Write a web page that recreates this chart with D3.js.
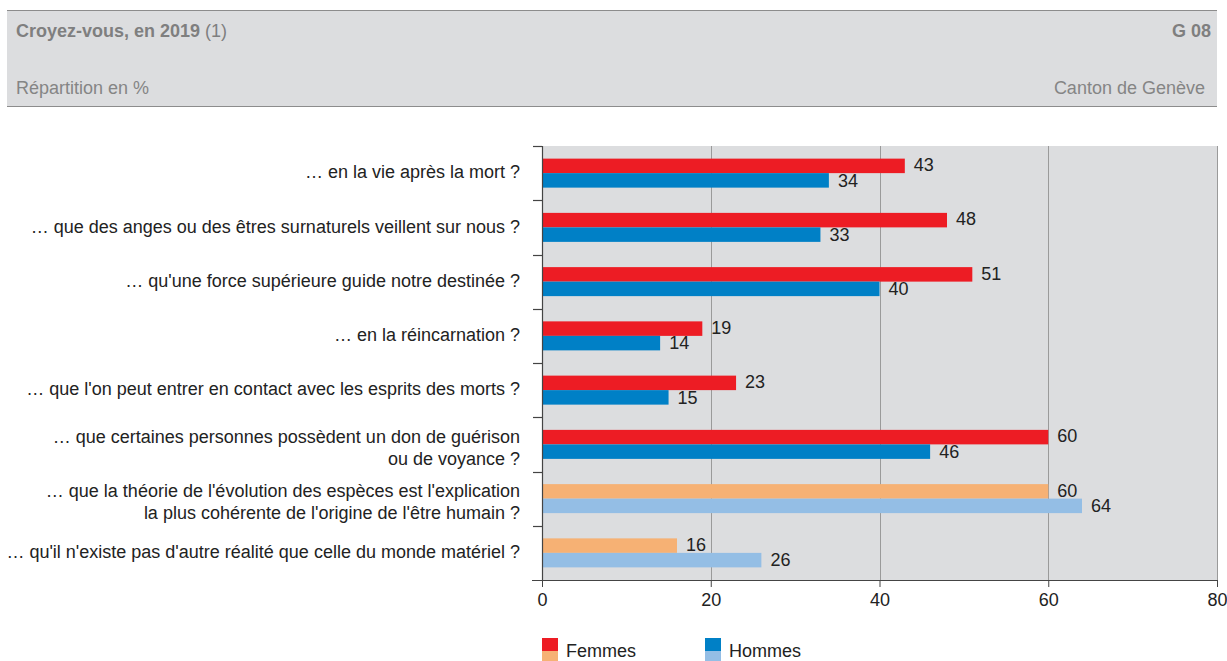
<!DOCTYPE html>
<html>
<head>
<meta charset="utf-8">
<script src="https://cdn.jsdelivr.net/npm/d3@7"></script>
<style>
  html, body { margin: 0; padding: 0; background: #fff; }
  svg { display: block; font-family: "Liberation Sans", Arial, sans-serif; }
</style>
</head>
<body>
<svg id="chart" width="1227" height="661"></svg>
<script>
const categories = [
  "… en la vie après la mort ?",
  "… que des anges ou des êtres surnaturels veillent sur nous ?",
  "… qu'une force supérieure guide notre destinée ?",
  "… en la réincarnation ?",
  "… que l'on peut entrer en contact avec les esprits des morts ?",
  "… que certaines personnes possèdent un don de guérison\nou de voyance ?",
  "… que la théorie de l'évolution des espèces est l'explication\nla plus cohérente de l'origine de l'être humain ?",
  "… qu'il n'existe pas d'autre réalité que celle du monde matériel ?"
];
const femmes = [43, 48, 51, 19, 23, 60, 60, 16];
const hommes = [34, 33, 40, 14, 15, 46, 64, 26];
const xTicks = [0, 20, 40, 60, 80];
const seriesNames = ["Femmes", "Hommes"];
const title = "Croyez-vous, en 2019";
const titleNote = " (1)";
const chartId = "G 08";
const subtitle = "Répartition en %";
const region = "Canton de Genève";

const colFemmes = ["#ED1C24", "#ED1C24", "#ED1C24", "#ED1C24", "#ED1C24", "#ED1C24", "#F6B174", "#F6B174"];
const colHommes = ["#0080C6", "#0080C6", "#0080C6", "#0080C6", "#0080C6", "#0080C6", "#94BEE5", "#94BEE5"];

const FS = 18;
const svg = d3.select("#chart");

// Header
svg.append("rect").attr("x", 7).attr("y", 10).attr("width", 1210).attr("height", 96).attr("fill", "#DCDDDF");
svg.append("line").attr("x1", 7).attr("x2", 1217).attr("y1", 10.5).attr("y2", 10.5).attr("stroke", "#8c8c8c").attr("stroke-width", 1.2);
svg.append("line").attr("x1", 7).attr("x2", 1217).attr("y1", 106.5).attr("y2", 106.5).attr("stroke", "#8c8c8c").attr("stroke-width", 1.2);
const t = svg.append("text").attr("x", 16).attr("y", 37).attr("font-size", FS).attr("fill", "#7f7f7f");
t.append("tspan").attr("font-weight", "bold").text(title);
t.append("tspan").text(titleNote);
svg.append("text").attr("x", 1211).attr("y", 37).attr("text-anchor", "end").attr("font-size", FS).attr("font-weight", "bold").attr("fill", "#7f7f7f").text(chartId);
svg.append("text").attr("x", 16).attr("y", 94).attr("font-size", FS).attr("fill", "#858585").text(subtitle);
svg.append("text").attr("x", 1205).attr("y", 94).attr("text-anchor", "end").attr("font-size", FS).attr("fill", "#858585").text(region);

// Scales
const x = d3.scaleLinear().domain([0, 80]).range([542, 1217]);
const y = d3.scaleBand().domain(d3.range(categories.length)).range([146, 580]);
const barH = 14.5;

// Plot background
svg.append("rect").attr("x", x(0)).attr("y", y.range()[0]).attr("width", x(80) - x(0)).attr("height", y.range()[1] - y.range()[0]).attr("fill", "#DCDDDF");

// Gridlines
svg.append("g").selectAll("line").data(xTicks.filter(d => d > 0)).join("line")
  .attr("x1", d => Math.round(x(d)) + 0.5).attr("x2", d => Math.round(x(d)) + 0.5)
  .attr("y1", 146).attr("y2", 580)
  .attr("stroke", "#9a9a9a").attr("stroke-width", 1);

// Bars
const g = svg.append("g");
g.selectAll("rect.f").data(femmes).join("rect").attr("class", "f")
  .attr("x", x(0)).attr("y", (d, i) => y(i) + y.bandwidth() / 2 - barH)
  .attr("width", d => x(d) - x(0)).attr("height", barH)
  .attr("fill", (d, i) => colFemmes[i]);
g.selectAll("rect.h").data(hommes).join("rect").attr("class", "h")
  .attr("x", x(0)).attr("y", (d, i) => y(i) + y.bandwidth() / 2)
  .attr("width", d => x(d) - x(0)).attr("height", barH)
  .attr("fill", (d, i) => colHommes[i]);

// Value labels
g.selectAll("text.f").data(femmes).join("text").attr("class", "f")
  .attr("x", d => x(d) + 9).attr("y", (d, i) => y(i) + y.bandwidth() / 2 - barH / 2 - 1)
  .attr("dy", "0.35em").attr("font-size", FS).attr("fill", "#222").text(d => d);
g.selectAll("text.h").data(hommes).join("text").attr("class", "h")
  .attr("x", d => x(d) + 9).attr("y", (d, i) => y(i) + y.bandwidth() / 2 + barH / 2)
  .attr("dy", "0.35em").attr("font-size", FS).attr("fill", "#222").text(d => d);

// X axis
const xAxis = d3.axisBottom(x).tickValues(xTicks).tickSize(7).tickPadding(6).tickFormat(d3.format("d"));
const xg = svg.append("g").attr("transform", "translate(0,580)").call(xAxis);
xg.select(".domain").remove();
xg.selectAll(".tick line").attr("stroke", "#444");
xg.selectAll(".tick text").attr("font-size", FS).attr("fill", "#222").attr("font-family", "Liberation Sans, Arial, sans-serif");
svg.append("line").attr("x1", 532).attr("x2", 1217).attr("y1", 580.5).attr("y2", 580.5).attr("stroke", "#444").attr("stroke-width", 1.2);

// Y axis line + ticks at band boundaries
svg.append("line").attr("x1", 542.5).attr("x2", 542.5).attr("y1", 146).attr("y2", 580).attr("stroke", "#444").attr("stroke-width", 1.2);
const bounds = d3.range(categories.length).map(i => y(i));
svg.append("g").selectAll("line").data(bounds).join("line")
  .attr("x1", 533).attr("x2", 542).attr("y1", d => Math.round(d) + 0.5).attr("y2", d => Math.round(d) + 0.5)
  .attr("stroke", "#444").attr("stroke-width", 1.2);

// Category labels
const lab = svg.append("g").selectAll("text").data(categories).join("text")
  .attr("text-anchor", "end").attr("font-size", FS).attr("fill", "#222");
lab.each(function(d, i) {
  const lines = d.split("\n");
  const cy = y(i) + y.bandwidth() / 2;
  const sel = d3.select(this);
  if (lines.length === 1) {
    sel.append("tspan").attr("x", 520).attr("y", cy - 1).attr("dy", "0.35em").text(lines[0]);
  } else {
    lines.forEach((ln, k) => {
      sel.append("tspan").attr("x", 520).attr("y", cy - 8 + k * 22).attr("dy", "0.35em").text(ln);
    });
  }
});

// Legend
const leg = svg.append("g");
const legX = [542, 705];
[[colFemmes[0], colFemmes[7]], [colHommes[0], colHommes[7]]].forEach((cols, i) => {
  leg.append("rect").attr("x", legX[i]).attr("y", 638).attr("width", 16).attr("height", 13).attr("fill", cols[0]);
  leg.append("rect").attr("x", legX[i]).attr("y", 651).attr("width", 16).attr("height", 13).attr("fill", cols[1]);
  leg.append("text").attr("x", legX[i] + 24).attr("y", 651).attr("dy", "0.35em").attr("font-size", FS).attr("fill", "#222").text(seriesNames[i]);
});
</script>
</body>
</html>
